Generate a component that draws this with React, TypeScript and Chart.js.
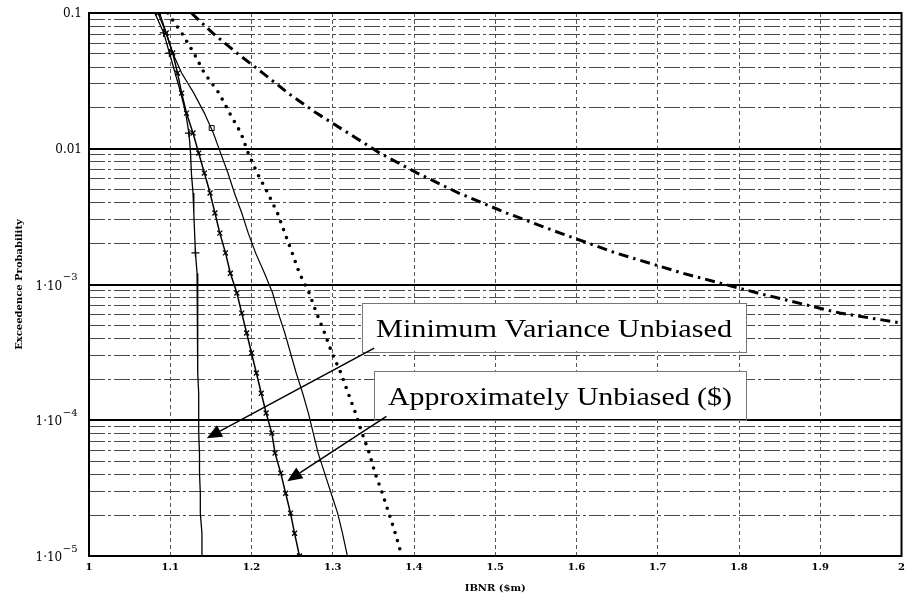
import React, { useEffect, useRef } from "react";
import { Chart, registerables } from "chart.js";

Chart.register(...registerables);

// ---------- DATA ----------
// Exceedence probability levels
const probLevels = [
  0.1, 0.0713, 0.0507, 0.0361, 0.0257, 0.0183, 0.01305, 0.00929, 0.00662, 0.00472,
  0.00336, 0.00239, 0.00171, 0.00121, 0.000865, 0.000616, 0.000439, 0.000313, 0.000223,
  0.000158, 0.000113, 0.0000804, 0.0000573, 0.0000408, 0.000029, 0.0000207, 0.0000147, 0.00001,
];

// IBNR ($m) of each curve at those probability levels
const ibnrPlus = [
  1.081, 1.092, 1.099, 1.106, 1.113, 1.119, 1.123, 1.125, 1.126, 1.128, 1.129, 1.13, 1.131,
  1.133, 1.133, 1.134, 1.134, 1.134, 1.134, 1.135, 1.135, 1.135, 1.136, 1.136, 1.137, 1.137,
  1.139, 1.139,
];
const ibnrCross = [
  1.085, 1.095, 1.103, 1.109, 1.114, 1.12, 1.128, 1.135, 1.142, 1.149, 1.155, 1.161, 1.168,
  1.174, 1.182, 1.188, 1.194, 1.2, 1.206, 1.212, 1.218, 1.225, 1.229, 1.236, 1.242, 1.248,
  1.253, 1.259,
];
const ibnrSolid = [
  1.087, 1.095, 1.103, 1.114, 1.129, 1.142, 1.153, 1.162, 1.171, 1.179, 1.188, 1.196, 1.205,
  1.216, 1.226, 1.233, 1.241, 1.248, 1.255, 1.263, 1.27, 1.276, 1.282, 1.29, 1.298, 1.306,
  1.312, 1.318,
];
const ibnrDotted = [
  1.097, 1.114, 1.129, 1.142, 1.16, 1.173, 1.187, 1.196, 1.207, 1.22, 1.232, 1.241, 1.25,
  1.259, 1.271, 1.28, 1.29, 1.299, 1.31, 1.319, 1.328, 1.336, 1.345, 1.352, 1.361, 1.369,
  1.377, 1.385,
];
// dash-dot curve leaves the chart at IBNR = 2
const probDashDot = [
  0.1, 0.0713, 0.0507, 0.0361, 0.0257, 0.0183, 0.01305, 0.00929, 0.00662, 0.00472,
  0.00336, 0.00239, 0.00171, 0.00121, 0.000865, 0.000616, 0.00052,
];
const ibnrDashDot = [
  1.126, 1.152, 1.182, 1.214, 1.245, 1.28, 1.319, 1.358, 1.404, 1.455, 1.514, 1.58, 1.648,
  1.731, 1.823, 1.924, 2.0,
];
// single square marker on the plain solid curve
const squareProb = [0.0142];
const squareIBNR = [1.151];

// Axis ticks
const xTickValues = [1, 1.1, 1.2, 1.3, 1.4, 1.5, 1.6, 1.7, 1.8, 1.9, 2];
const yLabelValues = [0.1, 0.01, 0.001, 0.0001, 0.00001];
const yLabelBase = ["0.1", "0.01", "1\u00b710", "1\u00b710", "1\u00b710"];
const yLabelExp = ["", "", "\u22123", "\u22124", "\u22125"];
const yDecades = [0.00001, 0.0001, 0.001, 0.01];
const yMultipliers = [1, 2, 3, 4, 5, 6, 7, 8, 9];

const annotationTexts = ["Minimum Variance Unbiased", "Approximately Unbiased ($)"];

// ---------- LAYOUT / STYLE (not data) ----------
const plusMarkerIdx = [1, 2, 6, 12];
const annotationLayout = [
  { box: [1.336, 1.809, 0.00073, 0.000318], from: [1.351, 0.00034], to: [1.145, 0.0000738] },
  { box: [1.351, 1.809, 0.00023, 0.0001], from: [1.366, 0.000107], to: [1.244, 0.0000356] },
];

const yGridValues = [
  ...yDecades.flatMap((d) => yMultipliers.map((m) => +(m * d).toPrecision(3))),
  0.1,
];
const isDecade = (v: number) => Math.abs(Math.log10(v) - Math.round(Math.log10(v))) < 1e-6;

const pts = (xs: number[], ys: number[]) => ys.map((y, i) => ({ x: xs[i], y }));

const decorPlugin = {
  id: "decor",
  afterDatasetsDraw(chart: any) {
    const { ctx, chartArea, scales } = chart;
    const x = scales.x;
    const y = scales.y;
    ctx.save();
    // frame
    ctx.strokeStyle = "#000";
    ctx.lineWidth = 2;
    ctx.strokeRect(chartArea.left, chartArea.top, chartArea.right - chartArea.left, chartArea.bottom - chartArea.top);

    // annotation boxes
    annotationLayout.forEach((a, i) => {
      const l = Math.round(x.getPixelForValue(a.box[0]));
      const r = Math.round(x.getPixelForValue(a.box[1]));
      const t = Math.round(y.getPixelForValue(a.box[2]));
      const b = Math.round(y.getPixelForValue(a.box[3]));
      ctx.fillStyle = "#fff";
      ctx.fillRect(l, t, r - l, b - t - 1);
      ctx.strokeStyle = "#777";
      ctx.lineWidth = 1;
      ctx.strokeRect(l + 0.5, t + 0.5, r - l, b - t);
      ctx.font = '25px "Liberation Serif"';
      ctx.fillStyle = "#000";
      ctx.textBaseline = "alphabetic";
      ctx.textAlign = "left";
      const text = annotationTexts[i];
      const w = ctx.measureText(text).width;
      const sx = (r - l - 28) / w;
      ctx.save();
      ctx.translate(l + 14, b - 15);
      ctx.scale(sx, 1);
      ctx.fillText(text, 0, 0);
      ctx.restore();
    });

    // arrows
    annotationLayout.forEach((a) => {
      const x1 = x.getPixelForValue(a.from[0]);
      const y1 = y.getPixelForValue(a.from[1]);
      const x2 = x.getPixelForValue(a.to[0]);
      const y2 = y.getPixelForValue(a.to[1]);
      const ang = Math.atan2(y2 - y1, x2 - x1);
      const len = 15;
      const hw = 6.5;
      const bx = x2 - len * Math.cos(ang);
      const by = y2 - len * Math.sin(ang);
      ctx.strokeStyle = "#000";
      ctx.lineWidth = 1.5;
      ctx.beginPath();
      ctx.moveTo(x1, y1);
      ctx.lineTo(bx, by);
      ctx.stroke();
      ctx.fillStyle = "#000";
      ctx.beginPath();
      ctx.moveTo(x2, y2);
      ctx.lineTo(bx + hw * Math.sin(ang), by - hw * Math.cos(ang));
      ctx.lineTo(bx - hw * Math.sin(ang), by + hw * Math.cos(ang));
      ctx.closePath();
      ctx.fill();
    });
    ctx.restore();
  },
  afterDraw(chart: any) {
    const { ctx, scales } = chart;
    const y = scales.y;
    ctx.save();
    ctx.fillStyle = "#000";
    ctx.textBaseline = "middle";
    yLabelValues.forEach((v, i) => {
      const py = y.getPixelForValue(v);
      if (!yLabelExp[i]) {
        ctx.font = '12px "DejaVu Serif"';
        ctx.textAlign = "right";
        ctx.fillText(yLabelBase[i], 82, py + 1);
      } else {
        ctx.font = '12px "DejaVu Serif"';
        const w1 = ctx.measureText(yLabelBase[i]).width;
        ctx.font = '10px "DejaVu Serif"';
        const w2 = ctx.measureText(yLabelExp[i]).width;
        const start = 77 - w1 - w2;
        ctx.textAlign = "left";
        ctx.font = '12px "DejaVu Serif"';
        ctx.fillText(yLabelBase[i], start, py + 2);
        ctx.font = '10px "DejaVu Serif"';
        ctx.fillText(yLabelExp[i], start + w1 + 0.5, py - 7);
      }
    });
    ctx.restore();
  },
};

export default function App() {
  const ref = useRef<HTMLCanvasElement>(null);
  useEffect(() => {
    const canvas = ref.current;
    if (!canvas) return;
    Chart.defaults.font.family = '"DejaVu Serif"';
    const chart = new Chart(canvas, {
      type: "line",
      data: {
        datasets: [
          {
            label: "plus",
            data: pts(ibnrPlus, probLevels),
            borderColor: "#000",
            borderWidth: 1.3,
            pointStyle: "cross",
            pointRadius: (c: any) => (plusMarkerIdx.includes(c.dataIndex) ? 4 : 0),
            pointBorderColor: "#000",
            pointBorderWidth: 1.3,
            pointHoverRadius: 0,
          },
          {
            label: "cross",
            data: pts(ibnrCross, probLevels),
            borderColor: "#000",
            borderWidth: 1.5,
            pointStyle: "crossRot",
            pointRadius: 3.5,
            pointBorderColor: "#000",
            pointBorderWidth: 1.3,
            pointHoverRadius: 0,
          },
          {
            label: "solid",
            data: pts(ibnrSolid, probLevels),
            borderColor: "#000",
            borderWidth: 1.2,
            pointRadius: 0,
          },
          {
            label: "square",
            data: pts(squareIBNR, squareProb),
            showLine: false,
            pointStyle: "rect",
            pointRadius: 3.5,
            pointBackgroundColor: "#fff",
            pointBorderColor: "#000",
            pointBorderWidth: 1,
          },
          {
            label: "dotted",
            data: pts(ibnrDotted, probLevels),
            borderColor: "#000",
            borderWidth: 3.6,
            borderDash: [0, 8.5],
            borderCapStyle: "round",
            pointRadius: 0,
          },
          {
            label: "dashdot",
            data: pts(ibnrDashDot, probDashDot),
            borderColor: "#000",
            borderWidth: 3,
            borderDash: [10, 5, 2.5, 5],
            pointRadius: 0,
          },
        ] as any,
      },
      options: {
        responsive: false,
        animation: false,
        events: [],
        layout: { padding: { left: 0, top: 13, right: 6, bottom: 0 } },
        plugins: { legend: { display: false }, tooltip: { enabled: false } },
        scales: {
          x: {
            type: "linear",
            min: 1,
            max: 2,
            afterBuildTicks: (s: any) => {
              s.ticks = xTickValues.map((v) => ({ value: v }));
            },
            afterFit: (s: any) => {
              s.height = 48;
            },
            ticks: {
              autoSkip: false,
              maxRotation: 0,
              padding: 5,
              color: "#000",
              font: { family: '"DejaVu Serif"', size: 10, weight: "bold" },
              callback: (v: any) => String(Math.round(Number(v) * 10) / 10),
            },
            grid: { color: "#555", lineWidth: 1, drawTicks: false },
            border: { display: false, dash: [4, 3] },
            title: {
              display: true,
              text: "IBNR ($m)",
              color: "#000",
              font: { family: '"DejaVu Serif"', size: 10, weight: "bold" },
              padding: { top: 0, bottom: 10 },
            },
          },
          y: {
            type: "logarithmic",
            min: 0.00001,
            max: 0.1,
            afterBuildTicks: (s: any) => {
              s.ticks = yGridValues.map((v) => ({ value: v }));
            },
            afterFit: (s: any) => {
              s.width = 89;
            },
            ticks: { display: false },
            grid: {
              drawTicks: false,
              color: (c: any) => (c.tick && isDecade(c.tick.value) ? "#000" : "#4a4a4a"),
              lineWidth: (c: any) => (c.tick && isDecade(c.tick.value) ? 2 : 1),
            },
            border: {
              display: false,
              dash: (c: any) => (c.tick && isDecade(c.tick.value) ? [] : [16, 3, 3, 3]),
            },
            title: {
              display: true,
              text: "Exceedence Probability",
              color: "#000",
              font: { family: '"DejaVu Serif"', size: 10, weight: "bold" },
              padding: { top: 13, bottom: 0 },
            },
          },
        },
      } as any,
      plugins: [decorPlugin],
    });
    return () => chart.destroy();
  }, []);

  return (
    <div style={{ position: "absolute", left: 0, top: 0, width: 910, height: 604, background: "#fff" }}>
      <canvas ref={ref} width={910} height={604} style={{ display: "block" }} />
    </div>
  );
}
